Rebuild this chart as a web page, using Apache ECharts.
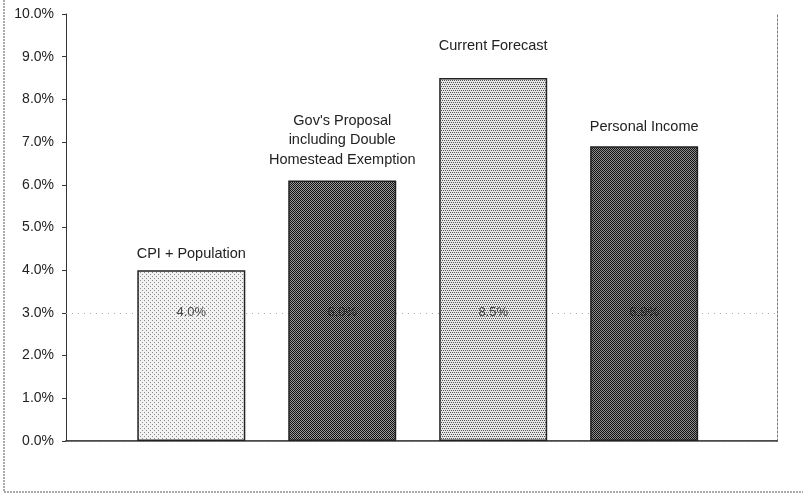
<!DOCTYPE html>
<html>
<head>
<meta charset="utf-8">
<script src="https://cdn.jsdelivr.net/npm/echarts@6/dist/echarts.min.js"></script>
<style>
  html, body { margin: 0; padding: 0; background: #fff; }
  #chart { width: 805px; height: 494px; }
</style>
</head>
<body>
<div id="chart"></div>
<script>
const categories = ['CPI + Population', "Gov's Proposal\nincluding Double\nHomestead Exemption", 'Current Forecast', 'Personal Income']
const growthValues = [4.0, 6.1, 8.5, 6.9]
const valueLabels = ['4.0%', '6.0%', '8.5%', '6.9%']
const yTicks = [0, 1, 2, 3, 4, 5, 6, 7, 8, 9, 10]

// printed textures: light dots, dark checker, medium dots, dark checker
const makePattern = (bg, fg, kind) => {
  const c = document.createElement('canvas')
  c.width = 4
  c.height = 4
  const ctx = c.getContext('2d')
  ctx.fillStyle = bg
  ctx.fillRect(0, 0, 4, 4)
  ctx.fillStyle = fg
  if (kind === 'checker') {
    ctx.fillRect(0, 0, 1, 1); ctx.fillRect(2, 0, 1, 1)
    ctx.fillRect(1, 1, 1, 1); ctx.fillRect(3, 1, 1, 1)
    ctx.fillRect(0, 2, 1, 1); ctx.fillRect(2, 2, 1, 1)
    ctx.fillRect(1, 3, 1, 1); ctx.fillRect(3, 3, 1, 1)
  } else if (kind === 'sparse') {
    ctx.fillRect(0, 0, 1, 1)
    ctx.fillRect(2, 2, 1, 1)
  } else {
    ctx.fillRect(0, 0, 1, 1); ctx.fillRect(2, 0, 1, 1)
    ctx.fillRect(1, 2, 1, 1); ctx.fillRect(3, 2, 1, 1)
  }
  return { image: c, repeat: 'repeat' }
}

const fills = [
  makePattern('#f2f2f2', '#8a8a8a', 'sparse'),
  makePattern('#9a9a9a', '#111111', 'checker'),
  makePattern('#e6e6e6', '#555555', 'dots'),
  makePattern('#8e8e8e', '#111111', 'checker')
]
const labelGaps = [6, 11, 22, 10]

const chart = echarts.init(document.getElementById('chart'))

chart.setOption({
  animation: false,
  textStyle: { fontFamily: 'Liberation Sans, Arial, sans-serif' },
  grid: { left: 66, right: 28, top: 14, bottom: 53 },
  xAxis: [
    {
      type: 'value',
      min: 0.17,
      max: 4.88,
      axisLine: { show: true, lineStyle: { color: '#111', width: 1.5 } },
      axisTick: { show: false },
      axisLabel: { show: false },
      splitLine: { show: false }
    },
    {
      type: 'value',
      position: 'top',
      min: 0.17,
      max: 4.88,
      axisLine: { show: true, lineStyle: { color: '#777', type: [2, 1] } },
      axisTick: { show: false },
      axisLabel: { show: false },
      splitLine: { show: false }
    }
  ],
  yAxis: [
    {
      type: 'value',
      min: yTicks[0],
      max: yTicks[yTicks.length - 1],
      interval: 1,
      axisLine: { show: true, lineStyle: { color: '#333' } },
      axisTick: { show: true, length: 4, lineStyle: { color: '#333' } },
      axisLabel: {
        color: '#222',
        fontSize: 14,
        margin: 12,
        formatter: v => v.toFixed(1) + '%'
      },
      splitLine: { show: false }
    },
    {
      type: 'value',
      position: 'right',
      min: 0,
      max: 10,
      axisLine: { show: true, lineStyle: { color: '#777', type: [2, 2] } },
      axisTick: { show: false },
      axisLabel: { show: false },
      splitLine: { show: false }
    }
  ],
  graphic: [
    {
      type: 'polyline',
      shape: { points: [[4, 0], [4, 492], [803, 492]] },
      style: { stroke: '#555', lineWidth: 1, lineDash: [2, 1], fill: null }
    }
  ],
  series: [
    {
      type: 'bar',
      barWidth: 108,
      z: 3,
      data: growthValues.map((v, i) => ({
        value: [i + 1, v],
        itemStyle: { color: fills[i], borderColor: '#222', borderWidth: 1.5 },
        label: {
          show: true,
          position: 'top',
          distance: labelGaps[i],
          formatter: categories[i],
          color: '#222',
          fontSize: 14.5,
          lineHeight: 19.5,
          align: 'center'
        }
      }))
    },
    {
      type: 'scatter',
      symbolSize: 0,
      z: 4,
      data: valueLabels.map((t, i) => ({
        value: [i + 1, 3],
        label: {
          show: true,
          position: 'inside',
          formatter: t,
          color: '#222',
          fontSize: 13
        }
      })),
      markLine: {
        silent: true,
        symbol: 'none',
        z: 1,
        label: { show: false },
        lineStyle: { color: '#aaa', type: [1, 5], width: 1 },
        data: [{ yAxis: 3 }]
      }
    }
  ]
})
</script>
</body>
</html>
